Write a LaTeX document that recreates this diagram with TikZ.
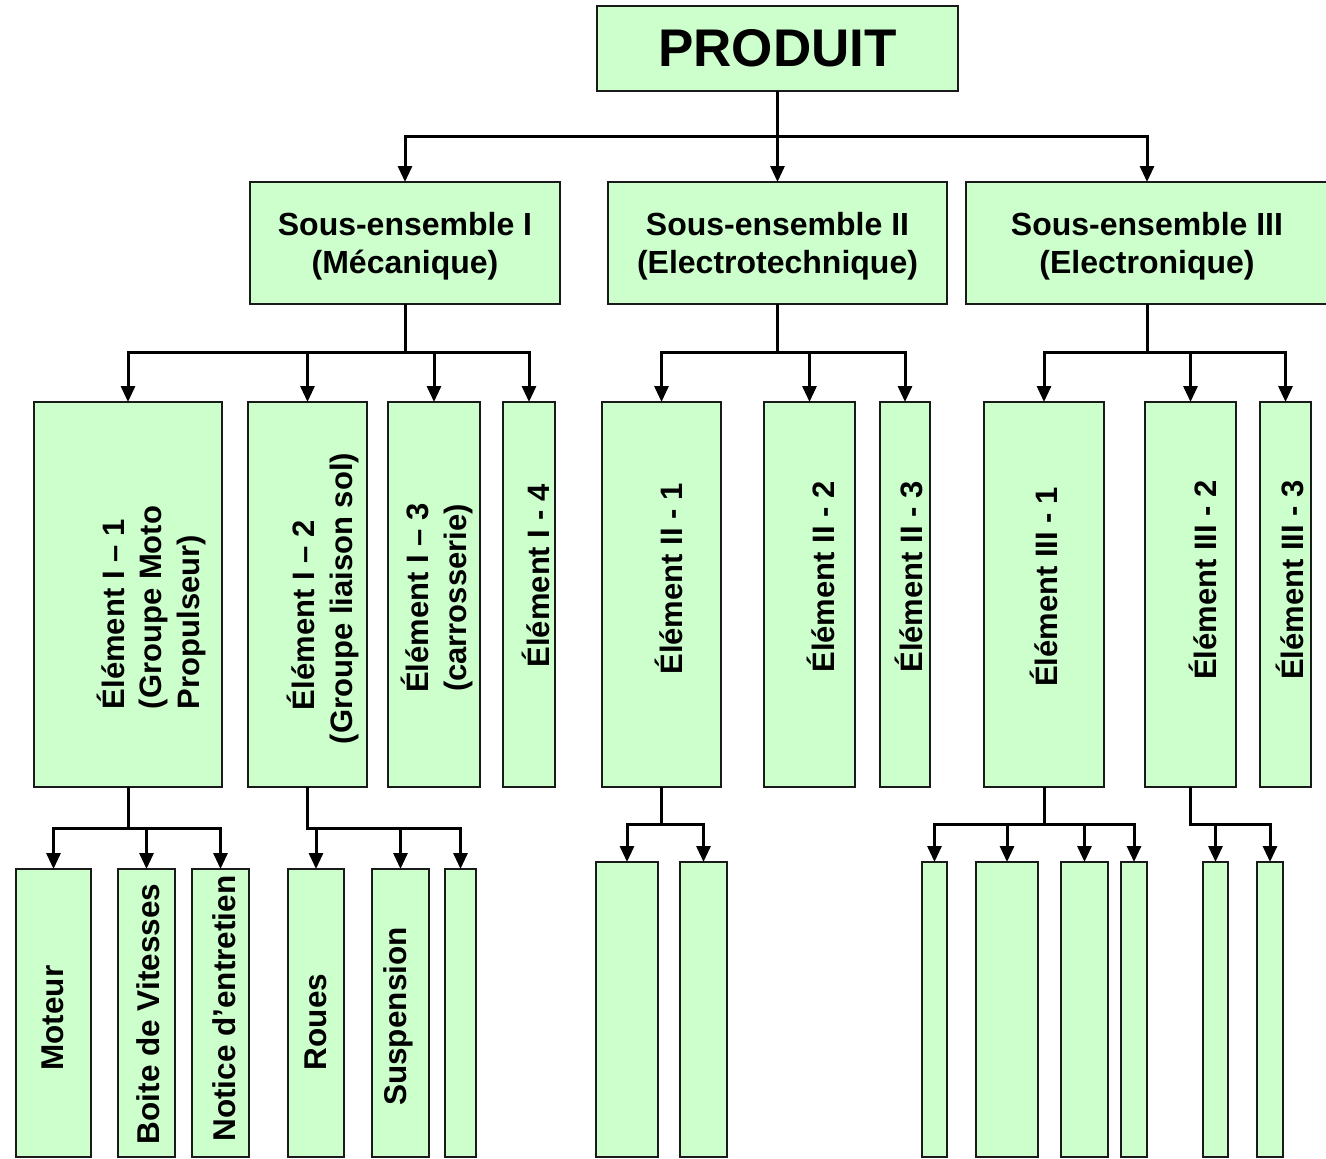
\documentclass[tikz,border=0pt]{standalone}
\usepackage{fontspec}
\setmainfont{Liberation Sans}
\usetikzlibrary{arrows.meta}
\definecolor{boxfill}{HTML}{CCFFCC}
\definecolor{boxline}{HTML}{1A1A1A}
\begin{document}
\begin{tikzpicture}[x=1pt,y=-1pt,
  box/.style={draw=boxline, fill=boxfill, line width=2pt, inner sep=0pt, outer sep=0pt},
  conn/.style={line width=3pt, draw=black, -{Triangle[length=16pt,width=14pt]}, line join=miter},
  lbl/.style={font=\bfseries\fontsize{31}{37.5}\selectfont, inner sep=0pt, outer sep=0pt},
  selbl/.style={font=\bfseries\fontsize{32}{38.5}\selectfont, align=center, inner sep=0pt},
  vlbl/.style={lbl, rotate=90},
  blbl/.style={vlbl, font=\bfseries\fontsize{31.5}{37.5}\selectfont}]
\useasboundingbox (0,0) rectangle (1326,1159);
\clip (0,0) rectangle (1326,1159);
% level 0
\node[box, minimum width=361pt, minimum height=85pt, font=\bfseries\fontsize{53}{60}\selectfont] (prod) at (777.5,48.5) {PRODUIT};
% level 1
\node[box, minimum width=310pt, minimum height=122pt] (se1) at (405,243) {};
\node[box, minimum width=339pt, minimum height=122pt] (se2) at (777.5,243) {};
\node[box, minimum width=362pt, minimum height=122pt] (se3) at (1147,243) {};
\node[selbl] (ts1) at (405,246) {Sous-ensemble I\\(Mécanique)};
\node[selbl] (ts2) at (777.5,246) {Sous-ensemble II\\(Electrotechnique)};
\node[selbl] (ts3) at (1147,246) {Sous-ensemble III\\(Electronique)};
% level 2
\node[box, minimum width=188pt, minimum height=385pt] (e11) at (128,594.5) {};
\node[box, minimum width=119pt, minimum height=385pt] (e12) at (307.5,594.5) {};
\node[box, minimum width=92pt, minimum height=385pt] (e13) at (434,594.5) {};
\node[box, minimum width=52pt, minimum height=385pt] (e14) at (529,594.5) {};
\node[box, minimum width=119pt, minimum height=385pt] (e21) at (661.5,594.5) {};
\node[box, minimum width=91pt, minimum height=385pt] (e22) at (809.5,594.5) {};
\node[box, minimum width=50pt, minimum height=385pt] (e23) at (905,594.5) {};
\node[box, minimum width=120pt, minimum height=385pt] (e31) at (1044,594.5) {};
\node[box, minimum width=91pt, minimum height=385pt] (e32) at (1190.5,594.5) {};
\node[box, minimum width=51pt, minimum height=385pt] (e33) at (1285.5,594.5) {};
% level 2 texts
\node[vlbl, align=left] (t11) at (151,607.5) {Élément I – 1\\(Groupe Moto\\Propulseur)};
\node[vlbl, align=left] (t12) at (323,598.5) {\hspace*{34pt}Élément I – 2\\(Groupe liaison sol)};
\node[vlbl, align=center] (t13) at (437,598) {Élément I – 3\\(carrosserie)};
\node[vlbl] (t14) at (536,576) {Élément I - 4};
\node[vlbl] (t21) at (668.5,579) {Élément II - 1};
\node[vlbl] (t22) at (820.5,577) {Élément II - 2};
\node[vlbl] (t23) at (909,577) {Élément II - 3};
\node[vlbl] (t31) at (1044,587) {Élément III - 1};
\node[vlbl] (t32) at (1202.5,580) {Élément III - 2};
\node[vlbl] (t33) at (1290,580) {Élément III - 3};
% level 3 left
\node[box, minimum width=75pt, minimum height=288pt] (m1) at (53.5,1013) {};
\node[box, minimum width=57pt, minimum height=288pt] (m2) at (146.5,1013) {};
\node[box, minimum width=57pt, minimum height=288pt] (m3) at (220.5,1013) {};
\node[box, minimum width=56pt, minimum height=288pt] (m4) at (316,1013) {};
\node[box, minimum width=57pt, minimum height=288pt] (m5) at (400.5,1013) {};
\node[box, minimum width=31pt, minimum height=288pt] (m6) at (460.5,1013) {};
\node[blbl] (tm1) at (53,1018) {Moteur};
\node[blbl] (tm2) at (148,1014) {Boite de Vitesses};
\node[blbl] (tm3) at (224,1008.5) {Notice d’entretien};
\node[blbl] (tm4) at (316,1022) {Roues};
\node[blbl] (tm5) at (398,1016.5) {Suspension};
% level 3 right
\node[box, minimum width=62pt, minimum height=295pt] (r1) at (627,1009.5) {};
\node[box, minimum width=47pt, minimum height=295pt] (r2) at (703.5,1009.5) {};
\node[box, minimum width=25pt, minimum height=295pt] (s1) at (934.5,1009.5) {};
\node[box, minimum width=62pt, minimum height=295pt] (s2) at (1007,1009.5) {};
\node[box, minimum width=47pt, minimum height=295pt] (s3) at (1084.5,1009.5) {};
\node[box, minimum width=26pt, minimum height=295pt] (s4) at (1134,1009.5) {};
\node[box, minimum width=25pt, minimum height=295pt] (u1) at (1215.5,1009.5) {};
\node[box, minimum width=26pt, minimum height=295pt] (u2) at (1270,1009.5) {};
% bus levels
\coordinate (y1) at (0,136);
\coordinate (y2) at (0,352);
\coordinate (y3) at (0,828);
\coordinate (y4) at (0,824);
% connectors
\foreach \c in {se1,se2,se3} \draw[conn] (prod.south) -- (prod.south |- y1) -| (\c.north);
\foreach \c in {e11,e12,e13,e14} \draw[conn] (se1.south) -- (se1.south |- y2) -| (\c.north);
\foreach \c in {e21,e22,e23} \draw[conn] (se2.south) -- (se2.south |- y2) -| (\c.north);
\foreach \c in {e31,e32,e33} \draw[conn] (se3.south) -- (se3.south |- y2) -| (\c.north);
\foreach \c in {m1,m2,m3} \draw[conn] (e11.south) -- (e11.south |- y3) -| (\c.north);
\foreach \c in {m4,m5,m6} \draw[conn] (e12.south) -- (e12.south |- y3) -| (\c.north);
\foreach \c in {r1,r2} \draw[conn] (e21.south) -- (e21.south |- y4) -| (\c.north);
\foreach \c in {s1,s2,s3,s4} \draw[conn] (e31.south) -- (e31.south |- y4) -| (\c.north);
\foreach \c in {u1,u2} \draw[conn] (e32.south) -- (e32.south |- y4) -| (\c.north);
\end{tikzpicture}
\end{document}
